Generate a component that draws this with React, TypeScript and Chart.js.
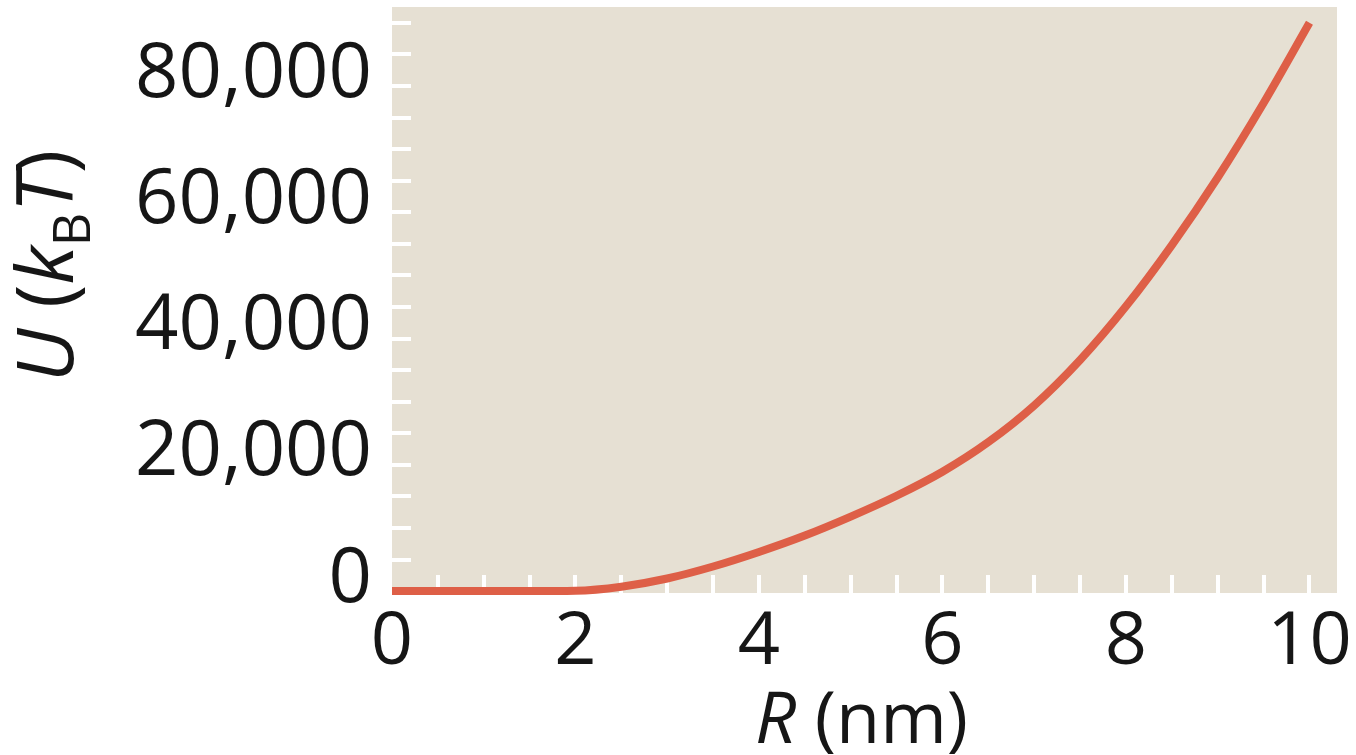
import React, { useEffect, useRef } from "react";
import { Chart, registerables } from "chart.js";

Chart.register(...registerables);

// Data
const R_VALUES = [0, 0.5, 1, 1.5, 2, 2.5, 3, 3.5, 4, 4.5, 5, 5.5, 6, 6.5, 7, 7.5, 8, 8.5, 9, 9.5, 10];
const U_VALUES = [0, 0, 0, 0, 50, 700, 2000, 3900, 6200, 8800, 11800, 15100, 18900, 23600, 29400, 36600, 45100, 54800, 65500, 77300, 90000];

const X_TICK_LABELS = [0, 2, 4, 6, 8, 10];
const Y_TICK_LABELS = [0, 20000, 40000, 60000, 80000];
const X_MINOR_TICKS = [0.5, 1, 1.5, 2, 2.5, 3, 3.5, 4, 4.5, 5, 5.5, 6, 6.5, 7, 7.5, 8, 8.5, 9, 9.5, 10];
const Y_MINOR_TICKS = [5000, 10000, 15000, 20000, 25000, 30000, 35000, 40000, 45000, 50000, 55000, 60000, 65000, 70000, 75000, 80000, 85000, 90000];

const X_TITLE = [
  { text: "R", italic: true },
  { text: " (nm)", italic: false },
];
const Y_TITLE = [
  { text: "U", italic: true },
  { text: " (", italic: false },
  { text: "k", italic: true },
  { text: "B", italic: false, sub: true },
  { text: "T", italic: true },
  { text: ")", italic: false },
];

const FONT = "'Open Sans', 'DejaVu Sans', sans-serif";
const BG = "#e6e0d3";
const LINE = "#de5f47";
const TEXT = "#161616";

type Run = { text: string; italic: boolean; sub?: boolean };

function drawRuns(ctx: CanvasRenderingContext2D, runs: Run[], size: number, subSize: number, subDrop: number) {
  const fontFor = (r: Run) => `${r.italic ? "italic " : ""}${r.sub ? subSize : size}px ${FONT}`;
  let total = 0;
  const widths = runs.map((r) => {
    ctx.font = fontFor(r);
    const w = ctx.measureText(r.text).width;
    total += w;
    return w;
  });
  let x = -total / 2;
  runs.forEach((r, i) => {
    ctx.font = fontFor(r);
    ctx.fillText(r.text, x, r.sub ? subDrop : 0);
    x += widths[i];
  });
}

const decorPlugin = {
  id: "decor",
  beforeDatasetsDraw(chart: any) {
    const { ctx, chartArea } = chart;
    const xs = chart.scales.x;
    const ys = chart.scales.y;
    ctx.save();
    ctx.fillStyle = BG;
    ctx.fillRect(chartArea.left, chartArea.top, chartArea.right - chartArea.left, chartArea.bottom - chartArea.top);
    ctx.strokeStyle = "#ffffff";
    ctx.lineWidth = 4;
    ctx.beginPath();
    X_MINOR_TICKS.forEach((v) => {
      const px = Math.round(xs.getPixelForValue(v));
      ctx.moveTo(px, chartArea.bottom);
      ctx.lineTo(px, chartArea.bottom - 18);
    });
    Y_MINOR_TICKS.forEach((v) => {
      const py = Math.round(ys.getPixelForValue(v));
      ctx.moveTo(chartArea.left, py);
      ctx.lineTo(chartArea.left + 19, py);
    });
    ctx.stroke();
    ctx.restore();
  },
  afterDraw(chart: any) {
    const { ctx, chartArea } = chart;
    ctx.save();
    ctx.fillStyle = TEXT;
    ctx.textBaseline = "alphabetic";
    ctx.textAlign = "left";
    // x title
    ctx.save();
    ctx.translate((chartArea.left + chartArea.right) / 2 - 3, 743);
    drawRuns(ctx, X_TITLE, 72, 48, 14);
    ctx.restore();
    // y title
    ctx.save();
    ctx.translate(73, 266);
    ctx.rotate(-Math.PI / 2);
    drawRuns(ctx, Y_TITLE, 79, 52, 17);
    ctx.restore();
    ctx.restore();
  },
};

export default function App() {
  const ref = useRef<HTMLCanvasElement | null>(null);

  useEffect(() => {
    document.body.style.margin = "0";
    document.body.style.overflow = "hidden";
    const canvas = ref.current;
    if (!canvas) return;
    const chart = new Chart(canvas, {
      type: "line",
      data: {
        datasets: [
          {
            data: R_VALUES.map((r, i) => ({ x: r, y: U_VALUES[i] })),
            borderColor: LINE,
            borderWidth: 8,
            borderCapStyle: "butt",
            pointRadius: 0,
            cubicInterpolationMode: "monotone",
            fill: false,
            clip: false,
          } as any,
        ],
      },
      options: {
        animation: false,
        responsive: true,
        maintainAspectRatio: false,
        layout: { padding: { top: 7, right: 19, left: 0, bottom: 0 } },
        plugins: {
          legend: { display: false },
          tooltip: { enabled: false },
          title: { display: false },
        },
        scales: {
          x: {
            type: "linear",
            min: 0,
            max: 10.3,
            grid: { display: false, drawTicks: false },
            border: { display: false },
            afterBuildTicks: (scale: any) => {
              scale.ticks = X_TICK_LABELS.map((v) => ({ value: v }));
            },
            afterFit: (scale: any) => {
              scale.height = 162;
              scale.paddingRight = 0;
              scale.paddingLeft = 0;
            },
            ticks: {
              color: TEXT,
              font: { family: FONT, size: 74 },
              padding: 6,
              maxRotation: 0,
              autoSkip: false,
              callback: (v: any) => String(v),
            },
          },
          y: {
            type: "linear",
            min: -300,
            max: 92500,
            grid: { display: false, drawTicks: false },
            border: { display: false },
            afterBuildTicks: (scale: any) => {
              scale.ticks = Y_TICK_LABELS.map((v) => ({ value: v }));
            },
            afterFit: (scale: any) => {
              scale.width = 392;
              scale.paddingTop = 0;
              scale.paddingBottom = 0;
            },
            ticks: {
              color: TEXT,
              font: { family: FONT, size: 76 },
              padding: 20,
              labelOffset: -11,
              autoSkip: false,
              callback: (v: any) => Number(v).toLocaleString("en-US"),
            },
          },
        },
      },
      plugins: [decorPlugin],
    });
    return () => chart.destroy();
  }, []);

  return (
    <div style={{ position: "relative", width: "1356px", height: "755px" }}>
      <canvas ref={ref} />
    </div>
  );
}
